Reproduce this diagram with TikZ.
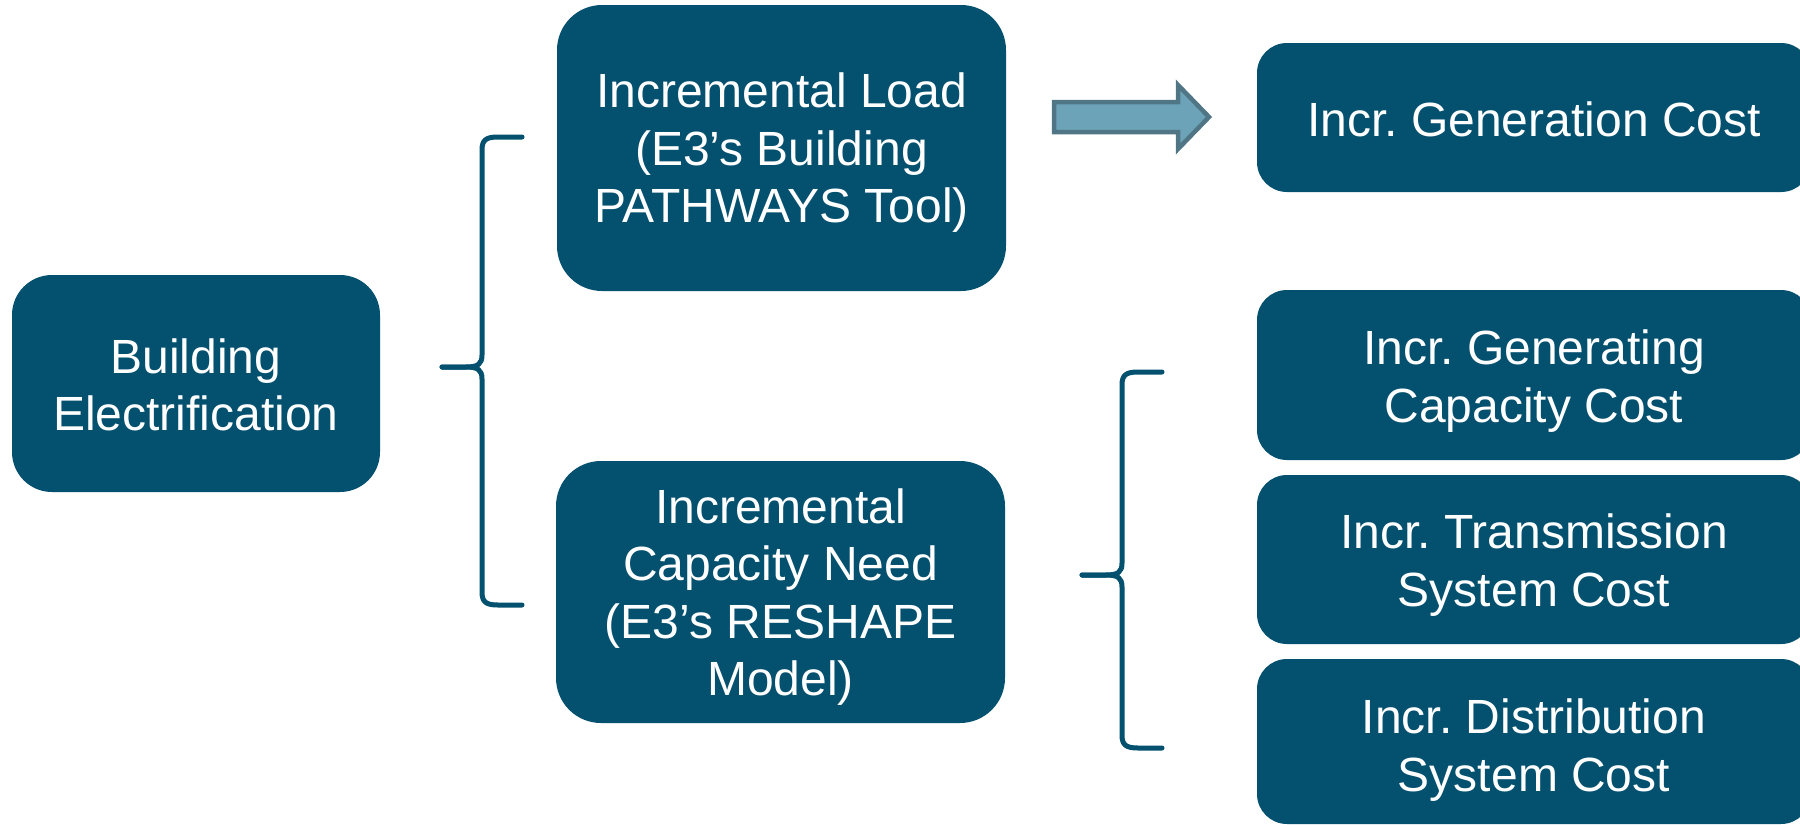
\documentclass[tikz,border=0pt]{standalone}
\usepackage{fontspec}
\setmainfont{Liberation Sans}
\frenchspacing
\definecolor{boxblue}{RGB}{4,80,111}
\definecolor{arrowfill}{RGB}{108,163,184}
\definecolor{arrowedge}{RGB}{80,118,134}
\begin{document}
\begin{tikzpicture}[x=1pt,y=-1pt,
  box/.style={fill=boxblue, rounded corners=#1, inner sep=0pt, draw=none},
  lbl/.style={text=white, align=center, inner sep=0pt, font=\fontsize{48}{57.5}\selectfont},
  bracket/.style={draw=boxblue, line width=5pt, line cap=round, line join=round},
  fatarrow/.style={fill=arrowfill, draw=arrowedge, line width=4.5pt, line join=miter}]
\useasboundingbox (0,0) rectangle (1800,825);

% boxes
\node[box=40pt, minimum width=368pt, minimum height=217pt] (be) at (196,383.5) {};
\node[box=45pt, minimum width=449pt, minimum height=286pt] (load) at (781.5,148) {};
\node[box=45pt, minimum width=449pt, minimum height=262pt] (cap) at (780.5,592) {};
\node[box=30pt, minimum width=554pt, minimum height=149pt] (gen) at (1534,117.5) {};
\node[box=30pt, minimum width=554pt, minimum height=170pt] (gcap) at (1534,375) {};
\node[box=30pt, minimum width=554pt, minimum height=169pt] (trans) at (1534,559.5) {};
\node[box=30pt, minimum width=554pt, minimum height=165pt] (dist) at (1534,741.5) {};

% labels
\node[lbl] (bet) at (196,385) {Building\\Electrification};
\node[lbl] (loadt) at (781.5,153) {Incremental Load\\(E3’s Building\\PATHWAYS Tool)};
\node[lbl] (capt) at (780.5,597) {Incremental\\Capacity Need\\(E3’s RESHAPE\\Model)};
\node[lbl] (gent) at (1534,119) {Incr. Generation Cost};
\node[lbl] (gcapt) at (1534,381) {Incr. Generating\\Capacity Cost};
\node[lbl] (transt) at (1534,565) {Incr. Transmission\\System Cost};
\node[lbl] (distt) at (1534,750) {Incr. Distribution\\System Cost};

% brace 1
\coordinate (b1top) at (522,137);
\coordinate (b1tip) at (442,367);
\coordinate (b1bot) at (522,605);
\draw[bracket] (b1top) -- (498,137) .. controls (486,137) and (482,140) .. (482,150)
  -- (482,355) .. controls (482,364) and (478,367) .. (466,367) -- (b1tip);
\draw[bracket] (b1tip) -- (466,367) .. controls (478,367) and (482,370) .. (482,379)
  -- (482,592) .. controls (482,602) and (486,605) .. (498,605) -- (b1bot);

% brace 2
\coordinate (b2top) at (1162,372);
\coordinate (b2tip) at (1082,575);
\coordinate (b2bot) at (1162,748);
\draw[bracket] (b2top) -- (1138,372) .. controls (1126,372) and (1122,375) .. (1122,385)
  -- (1122,563) .. controls (1122,572) and (1118,575) .. (1106,575) -- (b2tip);
\draw[bracket] (b2tip) -- (1106,575) .. controls (1118,575) and (1122,578) .. (1122,587)
  -- (1122,735) .. controls (1122,745) and (1126,748) .. (1138,748) -- (b2bot);

% block arrow
\coordinate (a1) at (1054,117);
\coordinate (a2) at (1209,117);
\draw[fatarrow] (a1) ++(0,-15) -- (1178,102) -- (1178,85) -- (a2) -- (1178,149) -- (1178,132) -- (1054,132) -- cycle;
\end{tikzpicture}
\end{document}
